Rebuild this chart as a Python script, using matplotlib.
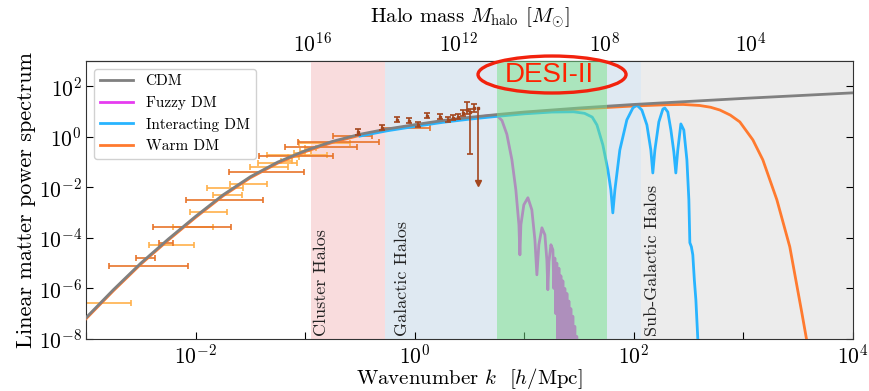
import numpy as np
import matplotlib
matplotlib.use('Agg')
import matplotlib.pyplot as plt
from matplotlib.patches import Ellipse
from matplotlib.ticker import FixedLocator, NullFormatter, NullLocator, LogFormatterSciNotation

plt.rcParams.update({
    'font.family': 'serif',
    'font.serif': ['cmr10', 'DejaVu Serif'],
    'mathtext.fontset': 'cm',
    'axes.unicode_minus': False,
    'axes.formatter.use_mathtext': True,
})

# ---------------- data (log10 values) ----------------
cdm_logk = [-3.0, -2.75, -2.5, -2.25, -2.0, -1.75, -1.5, -1.25, -1.0, -0.75, -0.5, -0.25,
            0.0, 0.25, 0.5, 0.75, 1.0, 1.5, 2.0, 2.5, 3.0, 3.5, 4.0]
cdm_logp = [-7.16, -6.05, -5.0, -4.05, -3.15, -2.3, -1.58, -1.0, -0.55, -0.18, 0.1, 0.31,
            0.48, 0.64, 0.77, 0.88, 0.98, 1.14, 1.28, 1.40, 1.52, 1.63, 1.74]

fdm_logk = [-0.5, -0.25, 0.0, 0.25, 0.5, 0.686, 0.75, 0.796, 0.841, 0.887, 0.923, 0.951, 0.960,
            0.969, 0.996, 1.033, 1.069, 1.097, 1.115, 1.133, 1.161, 1.188, 1.206, 1.215, 1.225,
            1.243, 1.261, 1.270, 1.279, 1.288, 1.297, 1.306, 1.316, 1.325, 1.334, 1.343, 1.352,
            1.361, 1.370, 1.380, 1.389, 1.398, 1.407, 1.416, 1.425, 1.434, 1.443, 1.452, 1.461,
            1.470, 1.479, 1.489]
fdm_logp = [0.07, 0.28, 0.45, 0.61, 0.74, 0.84, 0.84, 0.65, 0.1, -0.91, -2.10, -3.48, -4.67,
            -3.48, -2.69, -2.41, -2.89, -4.08, -5.46, -4.27, -3.60, -3.88, -4.87, -6.05, -4.94,
            -4.27, -4.47, -6.0, -4.8, -7.0, -5.0, -8.2, -5.2, -9.0, -5.5, -9.0, -5.7,
            -9.0, -6.0, -9.0, -6.2, -9.0, -6.5, -9.0, -6.8, -9.0, -7.1, -9.0, -7.5,
            -9.2, -7.9, -9.5]

idm_logk = [-0.5, -0.25, 0.0, 0.25, 0.5, 0.75, 1.0, 1.25, 1.45, 1.55, 1.62, 1.663, 1.717, 1.763,
            1.790, 1.808, 1.827, 1.872, 1.936, 1.991, 2.027, 2.073, 2.119, 2.155, 2.173, 2.192,
            2.228, 2.265, 2.283, 2.310, 2.338, 2.365, 2.383, 2.401, 2.429, 2.456, 2.484, 2.502,
            2.511, 2.525, 2.538, 2.552, 2.566, 2.584, 2.600]
idm_logp = [0.03, 0.24, 0.41, 0.57, 0.70, 0.81, 0.91, 0.98, 0.99, 0.93, 0.78, 0.47, -0.32, -1.31,
            -2.10, -3.01, -2.10, -0.52, 0.67, 1.14, 1.26, 1.06, 0.47, -0.52, -1.43, -0.52,
            0.59, 1.10, 1.14, 0.98, 0.27, -0.60, -1.43, -0.52, 0.51, 0.27, -0.91, -2.49,
            -4.19, -4.35, -4.67, -5.66, -6.45, -8.03, -9.0]

wdm_logk = [-3.0, -2.75, -2.5, -2.25, -2.0, -1.75, -1.5, -1.25, -1.0, -0.75, -0.5, -0.25,
            0.0, 0.25, 0.5, 0.75, 1.0, 1.5, 2.0, 2.3, 2.45, 2.6, 2.7, 2.785, 2.88, 2.967,
            3.086, 3.177, 3.305, 3.423, 3.533, 3.6]
wdm_logp = [-7.20, -6.09, -5.04, -4.09, -3.19, -2.34, -1.62, -1.04, -0.59, -0.22, 0.06, 0.27,
            0.44, 0.60, 0.73, 0.84, 0.94, 1.10, 1.22, 1.27, 1.28, 1.24, 1.17, 1.06, 0.86, 0.59,
            -0.12, -0.91, -2.49, -4.35, -6.96, -8.6]

# dark-orange data points (horizontal error bars)
do_logk = [-2.498, -2.453, -2.279, -2.115, -1.777, -1.431, -1.09, -0.911, -0.774, -0.546, -0.162]
do_lo   = [-2.790, -2.544, -2.334, -2.389, -2.088, -1.695, -1.42, -1.184, -1.066, -0.746, -0.299]
do_hi   = [-2.069, -2.370, -2.206, -1.677, -1.385, -1.011, -0.75, -0.527, -0.327, -0.391, 0.139]
do_logp = [-5.10, -4.79, -4.19, -3.56, -2.49, -1.39, -0.755, -0.40, -0.20, 0.036, 0.35]

# light-orange data points
lo_logk = [-2.872, -2.252, -2.005, -1.887, -1.704, -1.75, -1.549, -1.367, -1.276, -1.12, -0.865,
           -1.17, -1.11, -1.05, -1.0, -0.95]
lo_lo   = [-3.2, -2.425, -2.206, -2.051, -1.841, -1.896, -1.686, -1.504, -1.431, -1.35, -1.057,
           -1.22, -1.16, -1.10, -1.05, -1.0]
lo_hi   = [-2.589, -2.015, -1.841, -1.714, -1.577, -1.568, -1.349, -1.157, -1.075, -0.80, -0.591,
           -1.12, -1.06, -1.0, -0.95, -0.9]
lo_logp = [-6.57, -4.27, -3.56, -2.97, -2.30, -2.02, -1.86, -1.19, -1.03, -0.70, -0.24,
           -0.95, -0.80, -0.65, -0.55, -0.45]

# brown data points (vertical error bars)
br_logk = [-0.518, -0.299, -0.162, -0.053, 0.029, 0.111, 0.230, 0.303, 0.349, 0.394, 0.440,
           0.476, 0.504, 0.540]
br_logp = [0.19, 0.35, 0.67, 0.63, 0.47, 0.83, 0.79, 0.67, 0.75, 0.79, 0.95, 1.06, 0.98, 1.14]
br_lo   = [0.09, 0.25, 0.57, 0.53, 0.37, 0.73, 0.69, 0.57, 0.65, 0.69, 0.83, 0.90, -0.68, 0.98]
br_hi   = [0.29, 0.45, 0.77, 0.73, 0.57, 0.93, 0.89, 0.77, 0.85, 0.89, 1.07, 1.38, 1.12, 1.30]
arrow_logk = [0.577]
arrow_logp = [1.14]
arrow_low = [-1.82]

# shaded regions (log10 k edges)
cluster_span = (-0.947, -0.272)
galactic_span = (-0.272, 2.064)
subgal_span = (2.064, 4.0)
desi_span = (0.750, 1.754)
region_labels = ['Cluster Halos', 'Galactic Halos', 'Sub-Galactic Halos']
region_label_logk = [-0.856, -0.117, 2.173]

top_ticks = [1e16, 1e12, 1e8, 1e4]
top_minor = [1e14, 1e10, 1e6]
K16 = 10 ** -0.935  # k where M_halo = 1e16


def K(a):
    return 10 ** np.asarray(a, dtype=float)


def k_to_m(k):
    with np.errstate(divide='ignore', invalid='ignore'):
        return 1e16 * (np.asarray(k, dtype=float) / K16) ** -3.0


def m_to_k(m):
    with np.errstate(divide='ignore', invalid='ignore'):
        return K16 * (np.asarray(m, dtype=float) / 1e16) ** (-1.0 / 3.0)


fig = plt.figure(figsize=(8.69, 3.91), dpi=100)
ax = fig.add_axes([86 / 869, 52 / 391, 767 / 869, 278 / 391])
ax.set_xscale('log')
ax.set_yscale('log')
ax.set_xlim(1e-3, 1e4)
ax.set_ylim(1e-8, 1e3)

# regions
ax.axvspan(*K(cluster_span), color='#f9dcdd', lw=0, zorder=0.5)
ax.axvspan(*K(galactic_span), color='#dfe9f2', lw=0, zorder=0.5)
ax.axvspan(*K(subgal_span), color='#ececec', lw=0, zorder=0.5)
ax.axvspan(*K(desi_span), color='#78e28a', alpha=0.5, lw=0, zorder=3.5)

for lab, lk in zip(region_labels, region_label_logk):
    ax.text(10 ** lk, 1.35e-8, lab, rotation=90, ha='center', va='bottom',
            fontsize=13, color='#222222', zorder=4)

# data points
dark = '#e8742a'
light = '#ffb04a'
brown = '#a3461e'
dk, dl, dh = K(do_logk), K(do_lo), K(do_hi)
ax.errorbar(dk, K(do_logp), xerr=[dk - dl, dh - dk], fmt='none', ecolor=dark,
            elinewidth=1.2, capsize=2.5, capthick=1.2, zorder=2.2)
lk_, ll, lh = K(lo_logk), K(lo_lo), K(lo_hi)
ax.errorbar(lk_, K(lo_logp), xerr=[lk_ - ll, lh - lk_], fmt='none', ecolor=light,
            elinewidth=1.2, capsize=2.5, capthick=1.2, zorder=2.1)
bp = K(br_logp)
ax.errorbar(K(br_logk), bp, yerr=[bp - K(br_lo), K(br_hi) - bp], fmt='s', ms=2.0,
            color=brown, ecolor=brown, elinewidth=1.2, capsize=2.5, capthick=1.2, zorder=3.2)
ap = K(arrow_logp)
ax.errorbar(K(arrow_logk), ap, yerr=[ap - K(arrow_low), np.zeros_like(ap)], fmt='s', ms=2.0,
            color=brown, ecolor=brown, elinewidth=1.2, capsize=0, zorder=3.2)
ax.plot(K(arrow_logk), K(arrow_low), 'v', ms=5, color=brown, zorder=3.2)

# curves
l_w, = ax.plot(K(wdm_logk), K(wdm_logp), color='#ff7a2f', lw=2.0, zorder=2.6, label='Warm DM')
l_f, = ax.plot(K(fdm_logk), K(fdm_logp), color='#e63cf0', lw=2.0, zorder=2.7, label='Fuzzy DM')
l_i, = ax.plot(K(idm_logk), K(idm_logp), color='#28b4ff', lw=2.0, zorder=2.8, label='Interacting DM')
l_c, = ax.plot(K(cdm_logk), K(cdm_logp), color='#808080', lw=2.0, zorder=3.0, label='CDM')

# ticks
ax.xaxis.set_major_locator(FixedLocator([1e-2, 1, 1e2, 1e4]))
ax.xaxis.set_minor_locator(FixedLocator([1e-3, 1e-1, 1e1, 1e3]))
ax.xaxis.set_minor_formatter(NullFormatter())
ax.yaxis.set_major_locator(FixedLocator([1e-8, 1e-6, 1e-4, 1e-2, 1, 1e2]))
ax.yaxis.set_minor_locator(NullLocator())
ax.tick_params(which='both', direction='in', length=5, width=0.8, labelsize=15.5,
               right=True, top=False, pad=3)
for s in ax.spines.values():
    s.set_linewidth(0.8)
    s.set_color('#333333')

ax.set_xlabel(r'Wavenumber $k$  $[h/{\rm Mpc}]$', fontsize=15, labelpad=-1)
ax.set_ylabel('Linear matter power spectrum', fontsize=16, labelpad=2)

secax = ax.secondary_xaxis('top', functions=(k_to_m, m_to_k))
secax.xaxis.set_major_locator(FixedLocator(top_ticks))
secax.xaxis.set_minor_locator(FixedLocator(top_minor))
secax.xaxis.set_major_formatter(LogFormatterSciNotation())
secax.xaxis.set_minor_formatter(NullFormatter())
secax.tick_params(which='both', direction='in', length=5, width=0.8, labelsize=15.5, pad=4)
secax.set_xlabel(r'Halo mass $M_{\rm halo}$ $[M_{\odot}]$', fontsize=15, labelpad=6)

leg = ax.legend(handles=[l_c, l_f, l_i, l_w], loc='upper left', fontsize=11, frameon=True,
                fancybox=True, framealpha=0.9, edgecolor='#cccccc', borderaxespad=0.5,
                handlelength=2.2)
leg.set_zorder(10)

# DESI-II annotation
ax.add_patch(Ellipse((0.6076, 0.9514), 0.193, 0.133, transform=ax.transAxes, fill=False,
                     edgecolor='#f2220d', lw=2.4, clip_on=False, zorder=6))
ax.text(0.6037, 0.9496, 'DESI-II', transform=ax.transAxes, ha='center', va='center',
        fontsize=20, color='#ff2200', family=['Liberation Sans', 'DejaVu Sans'], zorder=6)

fig.savefig('out.png', dpi=100)
